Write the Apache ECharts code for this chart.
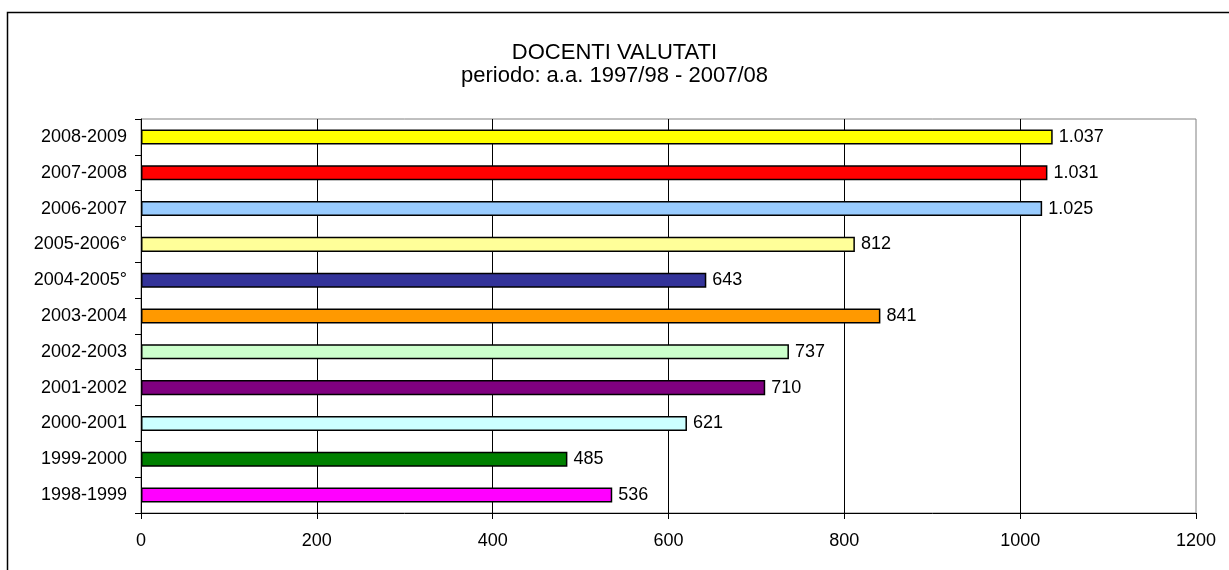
<!DOCTYPE html>
<html>
<head>
<meta charset="utf-8">
<script src="https://cdn.jsdelivr.net/npm/echarts@6/dist/echarts.min.js"></script>
<style>
  html, body { margin: 0; padding: 0; background: #fff; }
  #chart { width: 1229px; height: 570px; }
</style>
</head>
<body>
<div id="chart"></div>
<script>
// anni accademici (dal basso verso l'alto)
const years = ['1998-1999', '1999-2000', '2000-2001', '2001-2002', '2002-2003', '2003-2004',
  '2004-2005°', '2005-2006°', '2006-2007', '2007-2008', '2008-2009']
// docenti valutati
const docenti = [536, 485, 621, 710, 737, 841, 643, 812, 1025, 1031, 1037]
// colori delle barre
const barColors = ['#FF00FF', '#008000', '#CCFFFF', '#800080', '#CCFFCC', '#FF9900',
  '#333399', '#FFFF99', '#99CCFF', '#FF0000', '#FFFF00']

const font = 'Liberation Sans, Arial, sans-serif'
const chart = echarts.init(document.getElementById('chart'))

// separatore delle migliaia all'italiana: 1037 -> 1.037
function itNum(v) {
  return v >= 1000 ? Math.floor(v / 1000) + '.' + String(v % 1000).padStart(3, '0') : String(v)
}

const option = {
  animation: false,
  title: {
    text: 'DOCENTI VALUTATI\nperiodo: a.a. 1997/98 - 2007/08',
    left: 'center',
    top: 36,
    textStyle: { fontFamily: font, fontSize: 22, fontWeight: 'normal', color: '#000', lineHeight: 23 }
  },
  graphic: [{
    type: 'rect',
    shape: { x: 7.5, y: 12.5, width: 1300, height: 700 },
    style: { fill: 'none', stroke: '#000', lineWidth: 1.5 },
    silent: true
  }],
  grid: {
    left: 141, right: 33, top: 119, bottom: 57,
    show: true, borderColor: '#808080', borderWidth: 1
  },
  xAxis: {
    type: 'value',
    min: 0, max: 1200, interval: 200,
    axisLine: { show: true, lineStyle: { color: '#000' } },
    axisTick: { show: true, length: 6, lineStyle: { color: '#000' } },
    axisLabel: { color: '#000', fontFamily: font, fontSize: 18, margin: 19, formatter: v => String(v) },
    splitLine: { show: true, showMinLine: false, showMaxLine: false, lineStyle: { color: '#000', width: 1 } }
  },
  yAxis: {
    type: 'category',
    data: years,
    axisLine: { show: true, lineStyle: { color: '#000' } },
    axisTick: { show: true, length: 6, lineStyle: { color: '#000' } },
    axisLabel: { color: '#000', fontFamily: font, fontSize: 18, margin: 14 }
  },
  series: [{
    type: 'bar',
    data: docenti.map((v, i) => ({ value: v, itemStyle: { color: barColors[i] } })),
    barCategoryGap: '58%',
    itemStyle: { borderColor: '#000', borderWidth: 1.5 },
    label: {
      show: true,
      position: 'right',
      distance: 6,
      color: '#000',
      fontFamily: font,
      fontSize: 18,
      formatter: p => itNum(p.value)
    }
  }]
}

chart.setOption(option)
</script>
</body>
</html>
